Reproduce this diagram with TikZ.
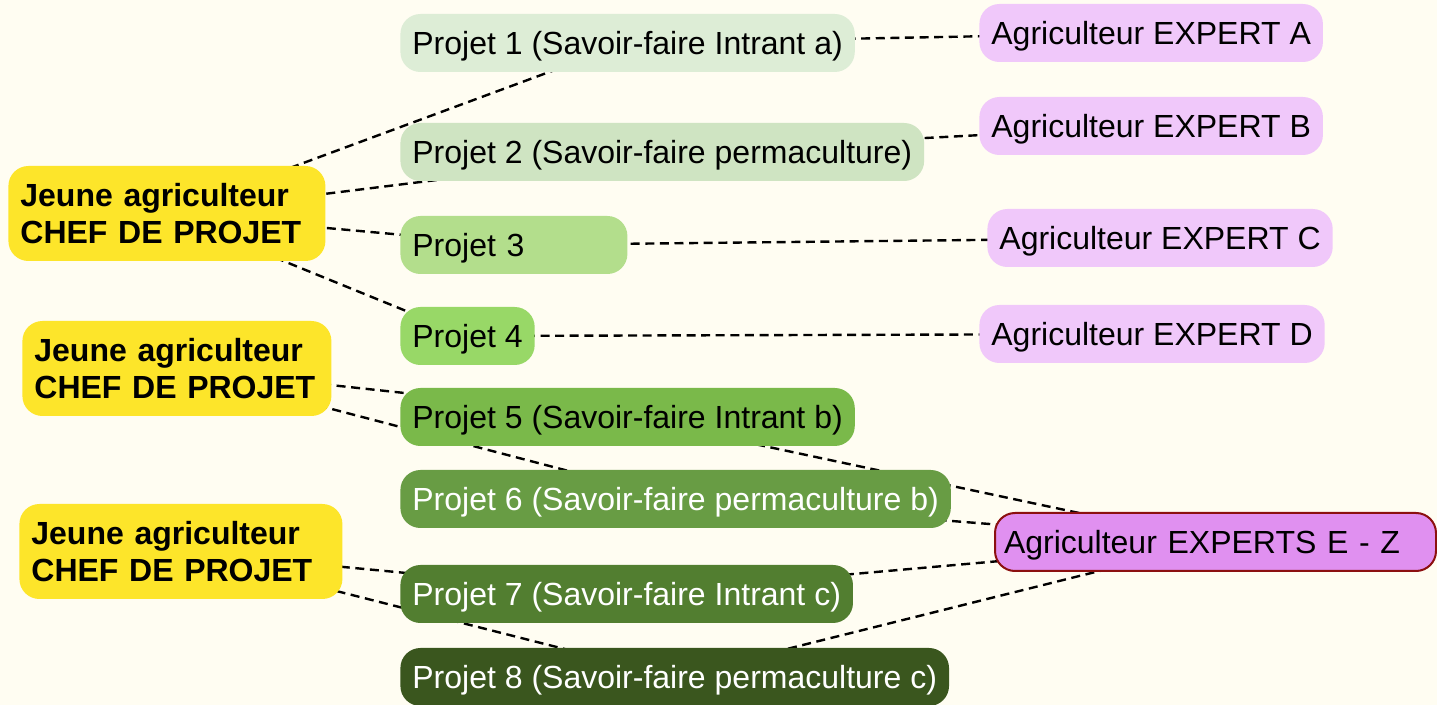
\documentclass[tikz,border=0pt]{standalone}
\usepackage{fontspec}
\setmainfont{Liberation Sans}
\usetikzlibrary{backgrounds}

\definecolor{fond}{RGB}{255,253,242}
\definecolor{jaune}{RGB}{253,229,42}
\definecolor{vertA}{RGB}{221,237,214}
\definecolor{vertB}{RGB}{207,228,194}
\definecolor{vertC}{RGB}{179,222,140}
\definecolor{vertD}{RGB}{152,216,103}
\definecolor{vertE}{RGB}{122,185,74}
\definecolor{vertF}{RGB}{104,156,68}
\definecolor{vertG}{RGB}{82,126,48}
\definecolor{vertH}{RGB}{58,86,30}
\definecolor{mauve}{RGB}{240,200,250}
\definecolor{mauvefonce}{RGB}{224,144,240}
\definecolor{bordeaux}{RGB}{140,16,16}

\begin{document}
\begin{tikzpicture}[x=0.5pt, y=-0.5pt,
                    font=\fontsize{16}{18.3}\selectfont,
                    chef/.style={fill=jaune, rounded corners=10pt, anchor=west, align=left,
                                 inner xsep=6pt, minimum height=47.5pt, font=\fontsize{16}{18.3}\selectfont\bfseries},
                    projet/.style={rounded corners=10pt, anchor=west, inner xsep=6pt,
                                   minimum height=29pt, text height=11.5pt, text depth=0pt},
                    expert/.style={projet, fill=mauve},
                    lien/.style={dash pattern=on 4.5pt off 2.8pt, line width=1.2pt}]
                    \useasboundingbox (0,0) rectangle (1437,705);

                    % Chefs de projet
                    \node[chef, text width=146.5pt] (chefA) at (8,213.5) {Jeune agriculteur\\CHEF DE PROJET};
                    \node[chef, text width=142.5pt] (chefB) at (22,368.5) {Jeune agriculteur\\CHEF DE PROJET};
                    \node[chef, text width=149.5pt] (chefC) at (19,551.5) {Jeune agriculteur\\CHEF DE PROJET};

                    % Projets
                    \node[projet, fill=vertA] (proj1) at (400,43) {Projet 1 (Savoir-faire Intrant a)};
                    \node[projet, fill=vertB] (proj2) at (400,152) {Projet 2 (Savoir-faire permaculture)};
                    \node[projet, fill=vertC, text width=101.5pt, align=left] (proj3) at (400,245) {Projet 3};
                    \node[projet, fill=vertD] (proj4) at (400,336) {Projet 4};
                    \node[projet, fill=vertE] (proj5) at (400,417) {Projet 5 (Savoir-faire Intrant b)};
                    \node[projet, fill=vertF, text=white] (proj6) at (400,499) {Projet 6 (Savoir-faire permaculture b)};
                    \node[projet, fill=vertG, text=white] (proj7) at (400,594) {Projet 7 (Savoir-faire Intrant c)};
                    \node[projet, fill=vertH, text=white] (proj8) at (400,677) {Projet 8 (Savoir-faire permaculture c)};

                    % Experts
                    \node[expert] (expA) at (979,33) {Agriculteur EXPERT A};
                    \node[expert] (expB) at (979,126) {Agriculteur EXPERT B};
                    \node[expert] (expC) at (987,238) {Agriculteur EXPERT C};
                    \node[expert] (expD) at (979,334) {Agriculteur EXPERT D};
                    \node[expert, fill=mauvefonce, draw=bordeaux, line width=1pt, inner xsep=4.5pt,
                          text width=211.5pt, align=left] (expEZ) at (994,542) {Agriculteur EXPERTS E - Z};

                    % Liens
                    \begin{scope}[on background layer]
                    \fill[fond] (0,0) rectangle (1437,705);
                    \draw[lien] (chefA.center) -- (proj1.center);
                    \draw[lien] (chefA.center) -- (proj2.center);
                    \draw[lien] (chefA.center) -- (proj3.center);
                    \draw[lien] (chefA.center) -- (proj4.center);
                    \draw[lien] (chefB.center) -- (proj5.center);
                    \draw[lien] (chefB.center) -- (proj6.center);
                    \draw[lien] (chefC.center) -- (proj7.center);
                    \draw[lien] (chefC.center) -- (proj8.center);
                    \draw[lien] (proj1.center) -- (expA.center);
                    \draw[lien] (proj2.center) -- (expB.center);
                    \draw[lien] (proj3.center) -- (expC.center);
                    \draw[lien] (proj4.center) -- (expD.center);
                    \draw[lien] (proj5.center) -- (expEZ.center);
                    \draw[lien] (proj6.center) -- (expEZ.center);
                    \draw[lien] (proj7.center) -- (expEZ.center);
                    \draw[lien] (proj8.center) -- (expEZ.center);
                    \end{scope}
                \end{tikzpicture}
\end{document}
